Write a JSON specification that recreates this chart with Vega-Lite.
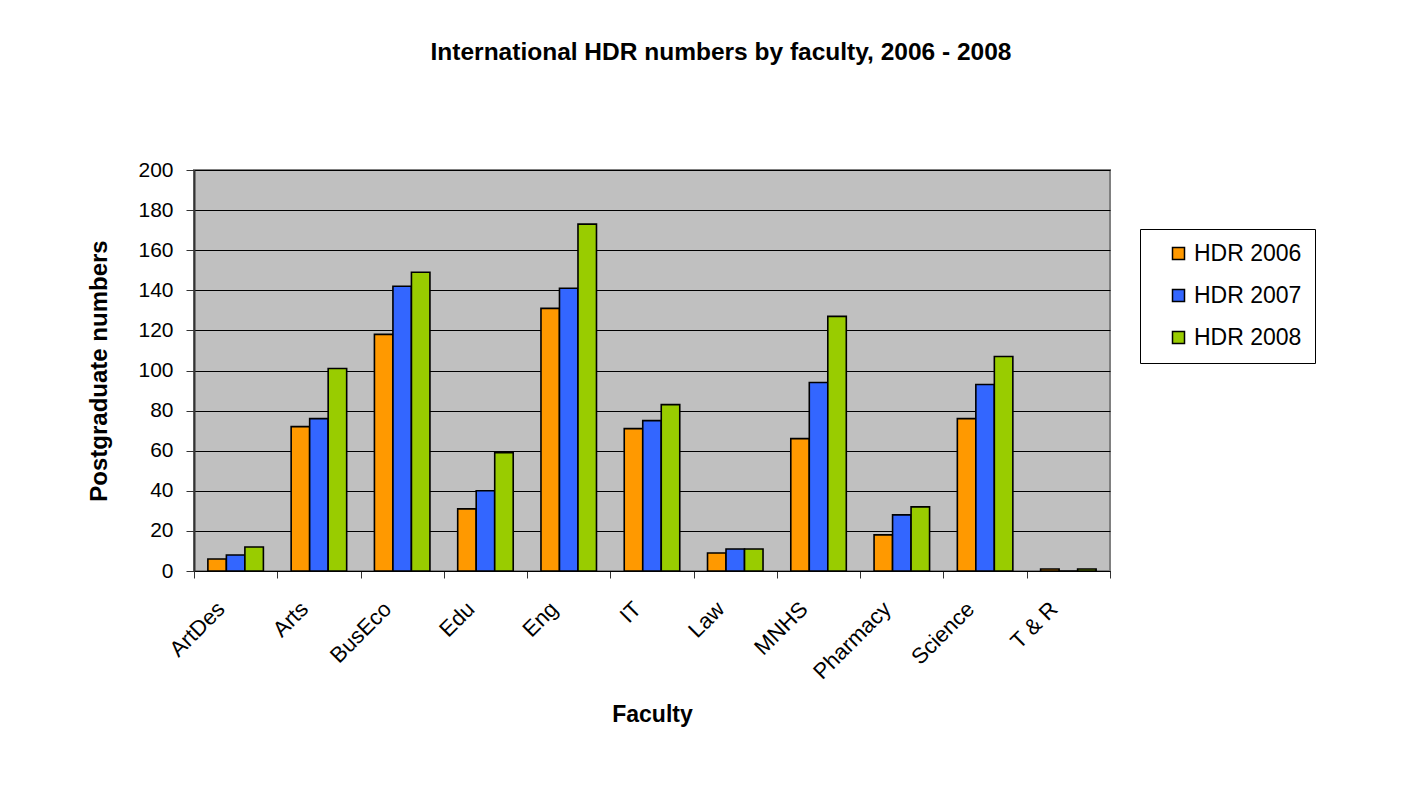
{
  "$schema": "https://vega.github.io/schema/vega-lite/v6.json",
  "autosize": "none",
  "width": 916,
  "height": 401,
  "padding": {"left": 194, "top": 170, "right": 307, "bottom": 231},
  "background": "white",
  "config": {
    "font": "Liberation Sans",
    "view": {"fill": "#C0C0C0", "stroke": "#808080", "strokeWidth": 2}
  },
  "title": {
    "text": "International HDR numbers by faculty, 2006 - 2008",
    "fontSize": 24.5,
    "fontWeight": "bold",
    "color": "black",
    "anchor": "middle",
    "dx": 69,
    "offset": 94
  },
  "data": {
    "values": [
      {"faculty": "ArtDes", "series": "HDR 2006", "value": 6},
      {"faculty": "ArtDes", "series": "HDR 2007", "value": 8},
      {"faculty": "ArtDes", "series": "HDR 2008", "value": 12},
      {"faculty": "Arts", "series": "HDR 2006", "value": 72},
      {"faculty": "Arts", "series": "HDR 2007", "value": 76},
      {"faculty": "Arts", "series": "HDR 2008", "value": 101},
      {"faculty": "BusEco", "series": "HDR 2006", "value": 118},
      {"faculty": "BusEco", "series": "HDR 2007", "value": 142},
      {"faculty": "BusEco", "series": "HDR 2008", "value": 149},
      {"faculty": "Edu", "series": "HDR 2006", "value": 31},
      {"faculty": "Edu", "series": "HDR 2007", "value": 40},
      {"faculty": "Edu", "series": "HDR 2008", "value": 59},
      {"faculty": "Eng", "series": "HDR 2006", "value": 131},
      {"faculty": "Eng", "series": "HDR 2007", "value": 141},
      {"faculty": "Eng", "series": "HDR 2008", "value": 173},
      {"faculty": "IT", "series": "HDR 2006", "value": 71},
      {"faculty": "IT", "series": "HDR 2007", "value": 75},
      {"faculty": "IT", "series": "HDR 2008", "value": 83},
      {"faculty": "Law", "series": "HDR 2006", "value": 9},
      {"faculty": "Law", "series": "HDR 2007", "value": 11},
      {"faculty": "Law", "series": "HDR 2008", "value": 11},
      {"faculty": "MNHS", "series": "HDR 2006", "value": 66},
      {"faculty": "MNHS", "series": "HDR 2007", "value": 94},
      {"faculty": "MNHS", "series": "HDR 2008", "value": 127},
      {"faculty": "Pharmacy", "series": "HDR 2006", "value": 18},
      {"faculty": "Pharmacy", "series": "HDR 2007", "value": 28},
      {"faculty": "Pharmacy", "series": "HDR 2008", "value": 32},
      {"faculty": "Science", "series": "HDR 2006", "value": 76},
      {"faculty": "Science", "series": "HDR 2007", "value": 93},
      {"faculty": "Science", "series": "HDR 2008", "value": 107},
      {"faculty": "T & R", "series": "HDR 2006", "value": 1},
      {"faculty": "T & R", "series": "HDR 2007", "value": 0},
      {"faculty": "T & R", "series": "HDR 2008", "value": 1}
    ]
  },
  "mark": {"type": "bar", "stroke": "black", "strokeWidth": 1.6},
  "encoding": {
    "x": {
      "field": "faculty",
      "type": "nominal",
      "sort": ["ArtDes", "Arts", "BusEco", "Edu", "Eng", "IT", "Law", "MNHS", "Pharmacy", "Science", "T & R"],
      "scale": {"paddingInner": 0, "paddingOuter": 0},
      "axis": {
        "title": "Faculty",
        "titleFontSize": 23,
        "titleFontWeight": "bold",
        "titleColor": "black",
        "titlePadding": 21,
        "labelAngle": -45,
        "labelFontSize": 22,
        "labelColor": "black",
        "labelPadding": 20,
        "labelOffset": -22,
        "tickBand": "extent",
        "tickSize": 7,
        "tickColor": "#333333",
        "domainColor": "black",
        "domainWidth": 1,
        "grid": false
      }
    },
    "xOffset": {
      "field": "series",
      "type": "nominal",
      "scale": {"paddingInner": 0, "paddingOuter": 0.75}
    },
    "y": {
      "field": "value",
      "type": "quantitative",
      "scale": {"domain": [0, 200], "nice": false},
      "axis": {
        "title": "Postgraduate numbers",
        "titleFontSize": 24,
        "titleFontWeight": "bold",
        "titleColor": "black",
        "titlePadding": 26,
        "values": [0, 20, 40, 60, 80, 100, 120, 140, 160, 180, 200],
        "labelFontSize": 21,
        "labelColor": "black",
        "labelPadding": 13,
        "tickSize": 8,
        "tickColor": "#333333",
        "domainColor": "#333333",
        "domainWidth": 2,
        "grid": true,
        "gridColor": "black",
        "gridWidth": 1,
        "gridOpacity": 1
      }
    },
    "color": {
      "field": "series",
      "type": "nominal",
      "scale": {"domain": ["HDR 2006", "HDR 2007", "HDR 2008"], "range": ["#FF9900", "#3366FF", "#99CC00"]},
      "legend": {
        "title": null,
        "orient": "none",
        "legendX": 946,
        "legendY": 59,
        "padding": 13,
        "strokeColor": "black",
        "fillColor": "white",
        "symbolType": "square",
        "symbolSize": 144,
        "symbolStrokeColor": "black",
        "symbolStrokeWidth": 1.5,
        "symbolOpacity": 1,
        "symbolOffset": 14,
        "labelFontSize": 23,
        "labelColor": "black",
        "labelOffset": 4,
        "rowPadding": 18
      }
    }
  }
}
